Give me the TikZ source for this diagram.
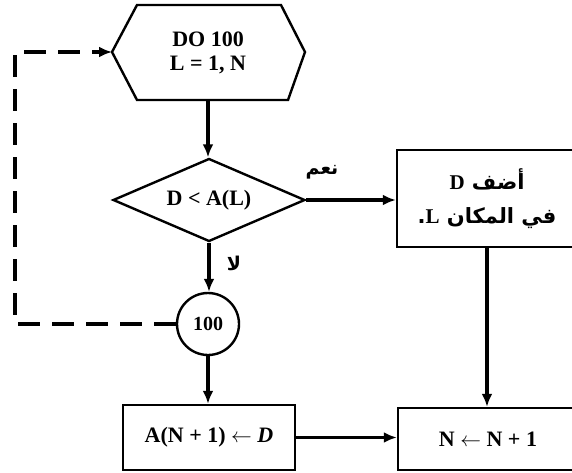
\documentclass[tikz,border=0pt]{standalone}
\usepackage{fontspec}
\setmainfont{Liberation Serif}
\newfontfamily\arabicfont[Script=Arabic]{DejaVu Sans}
\TeXXeTstate=1
\usetikzlibrary{shapes.geometric,arrows.meta}
\begin{document}
\begin{tikzpicture}[x=1pt,y=-1pt,
  every node/.style={font=\fontsize{22}{24}\selectfont\bfseries},
  shapeline/.style={line width=2.4pt},
  box/.style={draw,shapeline,rectangle,inner sep=0pt},
  conn/.style={line width=3.4pt,-{Latex[length=13pt,width=11pt]}},
  loopline/.style={line width=4pt,dash pattern=on 22pt off 12pt,-{Latex[length=13pt,width=11pt]}},
  lbl/.style={font=\arabicfont\fontsize{19}{20}\selectfont\bfseries}
]
\useasboundingbox (0,0) rectangle (572,473);
% hexagon (DO loop)
\coordinate (doL) at (112,52);
\coordinate (doB) at (208,100);
\draw[shapeline] (137,5) -- (281,5) -- (305,52) -- (288,100) -- (137,100) -- (doL) -- cycle;
\node[align=center] (do) at (208,53) {DO 100\\L = 1, N};
% decision
\node[draw,diamond,aspect=2.3,shapeline,minimum width=192pt,minimum height=83pt,inner sep=0pt] (dec) at (209,200) {D < A(L)};
% connector circle
\node[draw,circle,shapeline,minimum size=62pt,inner sep=0pt,font=\fontsize{20}{22}\selectfont\bfseries] (c100) at (208,324) {100};
% boxes
\node[box,minimum width=172pt,minimum height=65pt] (boxA) at (209,437.5) {A(N + 1) $\leftarrow$ \textit{D}};
\node[box,minimum width=180pt,minimum height=62pt] (boxN) at (488,439) {N $\leftarrow$ N + 1};
\node[box,minimum width=180pt,minimum height=97pt,align=center,
      font=\arabicfont\fontsize{21}{34}\selectfont\bfseries] (boxD) at (487,198.5)
      {\beginR أضف {\rmfamily D}\endR\\\beginR في المكان {\rmfamily L}.\endR};
% labels
\node[lbl] (yes) at (322,172) {\beginR نعم\endR};
\node[lbl] (no) at (234,263) {\beginR لا\endR};
% connectors
\draw[conn] (doB) -- (doB |- dec.north);
\draw[conn] (dec.east) -- (dec.east -| boxD.west);
\draw[conn] (dec.south) -- (dec.south |- c100.north);
\draw[conn] (c100.south) -- (c100.south |- boxA.north);
\draw[conn] (boxA.east) -- (boxA.east -| boxN.west);
\draw[conn] (boxD.south) -- (boxD.south |- boxN.north);
% dashed loop back
\coordinate (lp) at (15,0);
\draw[loopline] (c100.west) -- (c100.west -| lp) |- (doL);
\end{tikzpicture}
\end{document}
